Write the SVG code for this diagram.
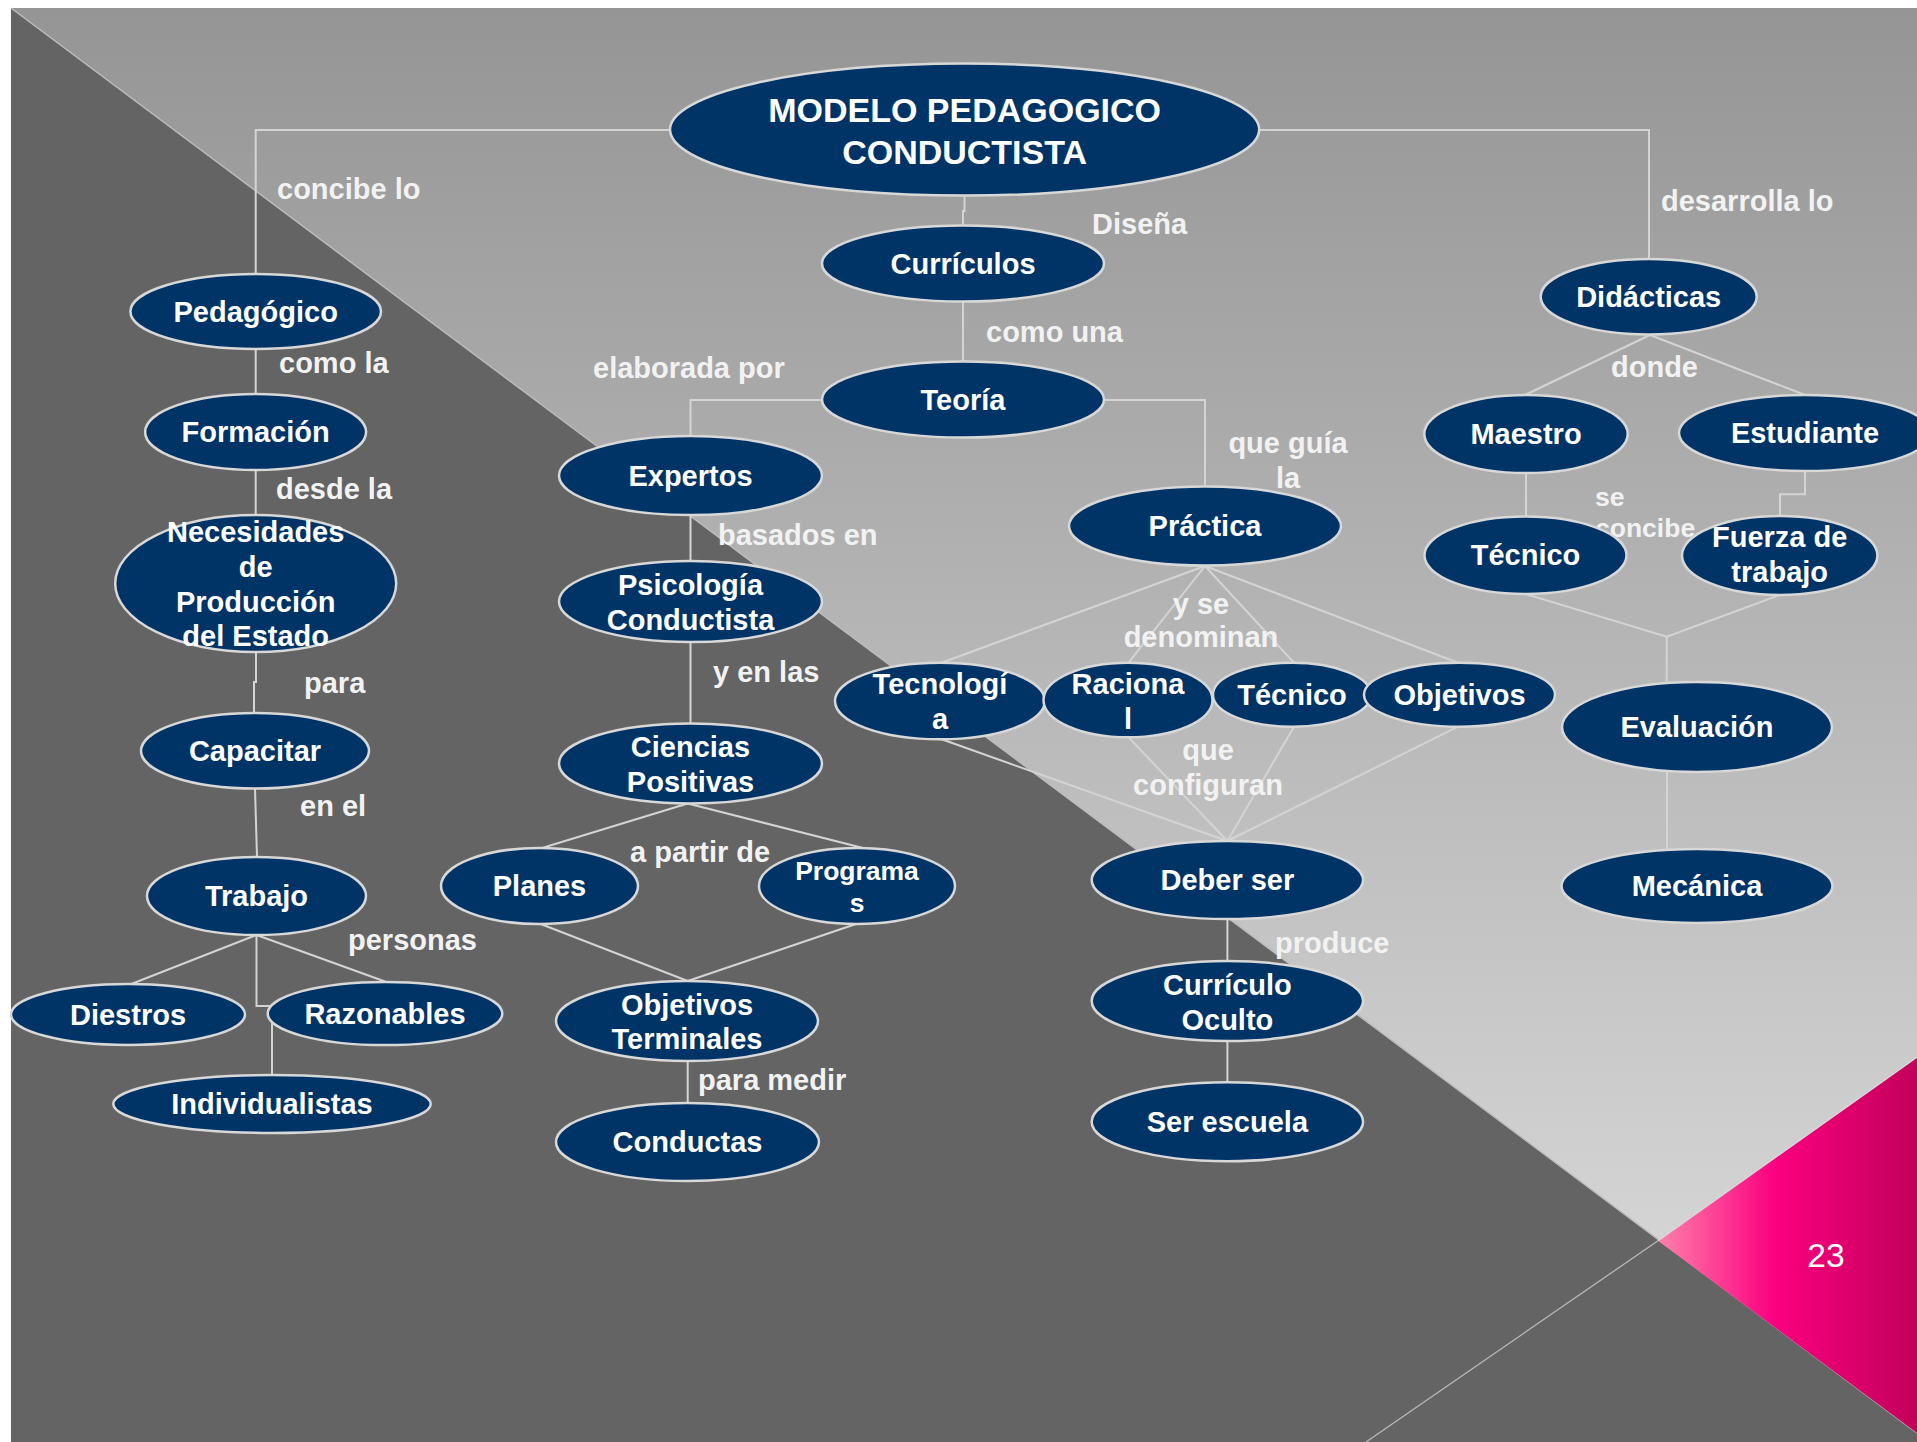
<svg xmlns="http://www.w3.org/2000/svg" width="1917" height="1442" viewBox="0 0 1917 1442">
<defs>
<linearGradient id="gLight" gradientUnits="userSpaceOnUse" x1="0" y1="8" x2="0" y2="1240">
<stop offset="0" stop-color="#959595"/>
<stop offset="1" stop-color="#d4d4d4"/>
</linearGradient>
<linearGradient id="gPink" gradientUnits="userSpaceOnUse" x1="1658" y1="0" x2="1917" y2="0">
<stop offset="0" stop-color="#ff80ab"/>
<stop offset="0.45" stop-color="#fb0080"/>
<stop offset="1" stop-color="#c2005a"/>
</linearGradient>
<style>
.nd{fill:#003366;stroke:#d8d8d8;stroke-width:2.5}
.nt{font-family:"Liberation Sans",Arial,sans-serif;font-weight:bold;font-size:29px;fill:#ffffff;text-anchor:middle}
.tt{font-size:34px}
.lb{font-family:"Liberation Sans",Arial,sans-serif;font-weight:bold;font-size:29px;fill:#f2f2f2}
.lbm{text-anchor:middle}
.sm{font-size:26.5px}
.cn{fill:none;stroke:#d4d4d4;stroke-width:2}
</style>
</defs>
<g id="background">
<rect x="0" y="0" width="1917" height="1442" fill="#ffffff"/>
<rect x="11" y="8" width="1906" height="1434" fill="url(#gLight)"/>
<polygon points="11,8 1917,1433 1917,1442 11,1442" fill="#646464"/>
<line x1="11" y1="8" x2="1917" y2="1433" stroke="#bcbcbc" stroke-width="1.5"/>
<polygon points="1658,1240.7 1917,1057 1917,1433" fill="url(#gPink)"/>
<line x1="1658" y1="1240.7" x2="1917" y2="1057" stroke="#d8d8d8" stroke-width="1.5"/>
<line x1="1658" y1="1240.7" x2="1366" y2="1442" stroke="#b8b8b8" stroke-width="1.3"/>
<text x="1826" y="1267" font-family="'Liberation Sans',Arial,sans-serif" font-size="33.5" fill="#ffffff" text-anchor="middle">23</text>
</g>
<g id="connectors">
<polyline class="cn" points="670,130 255.7,130 255.7,274"/>
<polyline class="cn" points="1259,130 1649,130 1649,259"/>
<polyline class="cn" points="964.5,196 964.5,211 963,211 963,226"/>
<line class="cn" x1="963" y1="301" x2="963" y2="362"/>
<polyline class="cn" points="822,400 690.5,400 690.5,436"/>
<polyline class="cn" points="1104,400 1205,400 1205,487"/>
<line class="cn" x1="255.7" y1="349" x2="255.7" y2="394"/>
<line class="cn" x1="255.7" y1="470" x2="255.7" y2="515"/>
<polyline class="cn" points="256,652 256,682 254,682 254,713"/>
<line class="cn" x1="255" y1="788.5" x2="257" y2="857"/>
<line class="cn" x1="256.5" y1="935" x2="130" y2="984.5"/>
<line class="cn" x1="256.5" y1="935" x2="385" y2="981.5"/>
<polyline class="cn" points="256.5,935 256.5,1006 272,1006 272,1075"/>
<line class="cn" x1="690.5" y1="515" x2="690.5" y2="561"/>
<line class="cn" x1="690.5" y1="642" x2="690.5" y2="724"/>
<line class="cn" x1="687.7" y1="803.5" x2="542" y2="848"/>
<line class="cn" x1="687.7" y1="803.5" x2="863" y2="848"/>
<line class="cn" x1="540.7" y1="924" x2="687.7" y2="981"/>
<line class="cn" x1="856" y1="924" x2="687.7" y2="981"/>
<line class="cn" x1="687.7" y1="1061" x2="687.7" y2="1103"/>
<line class="cn" x1="1205" y1="566" x2="941.7" y2="662.7"/>
<line class="cn" x1="1205" y1="566" x2="1128.5" y2="662.7"/>
<line class="cn" x1="1205" y1="566" x2="1294" y2="662.7"/>
<line class="cn" x1="1205" y1="566" x2="1458" y2="662.7"/>
<line class="cn" x1="941.7" y1="739.3" x2="1227.4" y2="841"/>
<line class="cn" x1="1128.5" y1="737.3" x2="1227.4" y2="841"/>
<line class="cn" x1="1294" y1="726.7" x2="1227.4" y2="841"/>
<line class="cn" x1="1458" y1="726.7" x2="1227.4" y2="841"/>
<line class="cn" x1="1227.4" y1="919" x2="1227.4" y2="961"/>
<line class="cn" x1="1227.4" y1="1041" x2="1227.4" y2="1082"/>
<line class="cn" x1="1650" y1="335" x2="1525" y2="395"/>
<line class="cn" x1="1650" y1="335" x2="1805" y2="395"/>
<line class="cn" x1="1526" y1="473" x2="1526" y2="517"/>
<polyline class="cn" points="1805,471 1805,494.3 1780,494.3 1780,516"/>
<polyline class="cn" points="1515,590.7 1666.7,636.7 1780,595"/>
<line class="cn" x1="1666.7" y1="636.7" x2="1666.7" y2="683"/>
<line class="cn" x1="1667" y1="771" x2="1667" y2="849"/>
</g>
<g id="labels">
<text class="lb" x="277" y="199">concibe lo</text>
<text class="lb" x="279" y="373">como la</text>
<text class="lb" x="276" y="499">desde la</text>
<text class="lb" x="304" y="693">para</text>
<text class="lb" x="300" y="816">en el</text>
<text class="lb" x="348" y="950">personas</text>
<text class="lb" x="593" y="378">elaborada por</text>
<text class="lb" x="718" y="545">basados en</text>
<text class="lb" x="713" y="682">y en las</text>
<text class="lb" x="630" y="862">a partir de</text>
<text class="lb" x="698" y="1090">para medir</text>
<text class="lb" x="1092" y="234">Diseña</text>
<text class="lb" x="986" y="342">como una</text>
<text class="lb lbm" x="1288" y="453">que guía</text>
<text class="lb lbm" x="1288" y="488">la</text>
<text class="lb lbm" x="1201" y="614">y se</text>
<text class="lb lbm" x="1201" y="647">denominan</text>
<text class="lb lbm" x="1208" y="760">que</text>
<text class="lb lbm" x="1208" y="795">configuran</text>
<text class="lb" x="1275" y="953">produce</text>
<text class="lb" x="1661" y="211">desarrolla lo</text>
<text class="lb" x="1611" y="377">donde</text>
<text class="lb sm" x="1595" y="506">se</text>
<text class="lb sm" x="1595" y="537">concibe</text>
</g>
<g id="n-modelo"><ellipse class="nd" cx="964.6" cy="129.6" rx="294.6" ry="66"/><text class="nt tt" x="964.6" y="122">MODELO PEDAGOGICO</text><text class="nt tt" x="964.6" y="164">CONDUCTISTA</text></g>
<g id="n-curriculos"><ellipse class="nd" cx="963" cy="263.5" rx="141" ry="38"/><text class="nt" x="963" y="273.5">Currículos</text></g>
<g id="n-teoria"><ellipse class="nd" cx="963" cy="399.5" rx="141" ry="38"/><text class="nt" x="963" y="409.5">Teoría</text></g>
<g id="n-pedagogico"><ellipse class="nd" cx="255.7" cy="311.5" rx="125.3" ry="37.5"/><text class="nt" x="255.7" y="321.5">Pedagógico</text></g>
<g id="n-formacion"><ellipse class="nd" cx="255.6" cy="432" rx="110.5" ry="38"/><text class="nt" x="255.6" y="442">Formación</text></g>
<g id="n-necesidades"><ellipse class="nd" cx="255.7" cy="583.5" rx="140.5" ry="68.5"/><text class="nt" x="255.7" y="542">Necesidades</text><text class="nt" x="255.7" y="576.5">de</text><text class="nt" x="255.7" y="611.5">Producción</text><text class="nt" x="255.7" y="646">del Estado</text></g>
<g id="n-capacitar"><ellipse class="nd" cx="255" cy="750.8" rx="114" ry="37.7"/><text class="nt" x="255" y="761">Capacitar</text></g>
<g id="n-trabajo"><ellipse class="nd" cx="256.5" cy="896" rx="109.5" ry="39"/><text class="nt" x="256.5" y="906">Trabajo</text></g>
<g id="n-diestros"><ellipse class="nd" cx="128" cy="1014.5" rx="117" ry="30.5"/><text class="nt" x="128" y="1024.5">Diestros</text></g>
<g id="n-razonables"><ellipse class="nd" cx="385" cy="1013.5" rx="117.3" ry="31.6"/><text class="nt" x="385" y="1023.5">Razonables</text></g>
<g id="n-individualistas"><ellipse class="nd" cx="272" cy="1104" rx="158.7" ry="29"/><text class="nt" x="272" y="1114">Individualistas</text></g>
<g id="n-expertos"><ellipse class="nd" cx="690.5" cy="475.6" rx="131.5" ry="39.5"/><text class="nt" x="690.5" y="485.6">Expertos</text></g>
<g id="n-psicologia"><ellipse class="nd" cx="690.5" cy="601.5" rx="131.5" ry="40.5"/><text class="nt" x="690.5" y="595">Psicología</text><text class="nt" x="690.5" y="630">Conductista</text></g>
<g id="n-ciencias"><ellipse class="nd" cx="690.5" cy="763.5" rx="131.5" ry="40"/><text class="nt" x="690.5" y="757">Ciencias</text><text class="nt" x="690.5" y="792">Positivas</text></g>
<g id="n-planes"><ellipse class="nd" cx="539.5" cy="886" rx="98.5" ry="38"/><text class="nt" x="539.5" y="896">Planes</text></g>
<g id="n-programas"><ellipse class="nd" cx="857" cy="886" rx="98" ry="38"/><text class="nt sm" x="857" y="880">Programa</text><text class="nt sm" x="857" y="912">s</text></g>
<g id="n-objetivos-terminales"><ellipse class="nd" cx="687" cy="1021" rx="131" ry="40"/><text class="nt" x="687" y="1014.5">Objetivos</text><text class="nt" x="687" y="1049">Terminales</text></g>
<g id="n-conductas"><ellipse class="nd" cx="687.5" cy="1142" rx="131.5" ry="39"/><text class="nt" x="687.5" y="1152">Conductas</text></g>
<g id="n-practica"><ellipse class="nd" cx="1205" cy="526" rx="136" ry="39.5"/><text class="nt" x="1205" y="536">Práctica</text></g>
<g id="n-tecnologia"><ellipse class="nd" cx="940" cy="701" rx="105" ry="38.3"/><text class="nt" x="940" y="694">Tecnologí</text><text class="nt" x="940" y="729">a</text></g>
<g id="n-racional"><ellipse class="nd" cx="1128" cy="700" rx="84.5" ry="37.3"/><text class="nt" x="1128" y="694">Raciona</text><text class="nt" x="1128" y="729">l</text></g>
<g id="n-tecnico-1"><ellipse class="nd" cx="1292" cy="694.7" rx="79" ry="32"/><text class="nt" x="1292" y="705">Técnico</text></g>
<g id="n-objetivos"><ellipse class="nd" cx="1459.5" cy="694.7" rx="95.5" ry="32"/><text class="nt" x="1459.5" y="705">Objetivos</text></g>
<g id="n-deber-ser"><ellipse class="nd" cx="1227.4" cy="880" rx="135.7" ry="39"/><text class="nt" x="1227.4" y="890">Deber ser</text></g>
<g id="n-curriculo-oculto"><ellipse class="nd" cx="1227.4" cy="1001" rx="135.7" ry="40"/><text class="nt" x="1227.4" y="994.5">Currículo</text><text class="nt" x="1227.4" y="1029.5">Oculto</text></g>
<g id="n-ser-escuela"><ellipse class="nd" cx="1227.4" cy="1121.7" rx="135.7" ry="39.5"/><text class="nt" x="1227.4" y="1131.7">Ser escuela</text></g>
<g id="n-didacticas"><ellipse class="nd" cx="1648.7" cy="296.7" rx="108" ry="37.7"/><text class="nt" x="1648.7" y="306.7">Didácticas</text></g>
<g id="n-maestro"><ellipse class="nd" cx="1526" cy="434" rx="101.7" ry="39"/><text class="nt" x="1526" y="444">Maestro</text></g>
<g id="n-estudiante"><ellipse class="nd" cx="1805" cy="433" rx="126" ry="38"/><text class="nt" x="1805" y="443">Estudiante</text></g>
<g id="n-tecnico-2"><ellipse class="nd" cx="1525.5" cy="555.3" rx="101" ry="38.7"/><text class="nt" x="1525.5" y="565.3">Técnico</text></g>
<g id="n-fuerza"><ellipse class="nd" cx="1779.7" cy="555.5" rx="97.7" ry="39.5"/><text class="nt" x="1779.7" y="547">Fuerza de</text><text class="nt" x="1779.7" y="581.7">trabajo</text></g>
<g id="n-evaluacion"><ellipse class="nd" cx="1697" cy="727" rx="135" ry="45"/><text class="nt" x="1697" y="737">Evaluación</text></g>
<g id="n-mecanica"><ellipse class="nd" cx="1697" cy="886" rx="135.5" ry="37"/><text class="nt" x="1697" y="896">Mecánica</text></g>
</svg>
